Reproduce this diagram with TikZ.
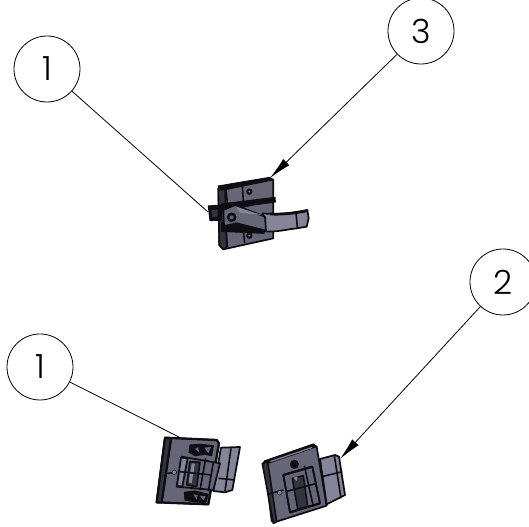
\documentclass[tikz,border=0pt]{standalone}
\usepackage{fontspec}
\setmainfont{Poppins Light}
\usetikzlibrary{arrows.meta}
\definecolor{pg}{HTML}{666678}
\definecolor{pl}{HTML}{85859A}
\definecolor{pd}{HTML}{34343F}
\definecolor{ink}{HTML}{0E0E12}
\tikzset{
  balloon/.style={circle,draw=black,line width=0.6pt,minimum size=49.5pt,inner sep=0pt,fill=white,font=\fontsize{25}{25}\selectfont},
  leader/.style={draw=black,line width=0.6pt},
  arrowed/.style={leader,-{Latex[length=17pt,width=6.5pt]}},
  zoomed/.style={x=0.25pt,y=-0.25pt},
  light/.style={fill=pl,draw=ink,line width=1.3pt,line join=round},
  mid/.style={fill=pg,draw=ink,line width=1.3pt,line join=round},
  dark/.style={fill=pd,draw=ink,line width=1.2pt,line join=round},
  edge/.style={draw=ink,line width=1.2pt},
  heavy/.style={fill=ink,draw=ink,line width=0.8pt,line join=round}
}
\begin{document}
\begin{tikzpicture}[x=0.75pt,y=-0.75pt]
\useasboundingbox (0,0) rectangle (529,527);

% --- upper part
\begin{scope}[shift={(190,160)},zoomed]
  \path[mid] (85,85) -- (240,55) -- (250,60) -- (250,235) -- (100,268) -- (88,255) -- cycle;
  \path[dark] (85,85) -- (105,82) -- (110,262) -- (100,268) -- (88,255) -- cycle;
  \path[heavy] (85,78) -- (240,52) -- (248,60) -- (110,88) -- (92,90) -- cycle;
  \draw[edge] (157,75) -- (160,125) (160,210) -- (164,250);
  \draw[edge] (108,88) -- (112,130) (108,205) -- (112,262);
  \path[heavy] (178,95) circle (8);
  \path[fill=pl] (178,95) circle (3);
  \path[heavy] (178,227) circle (8);
  \path[fill=pl] (178,227) circle (3);
  \path[heavy] (55,138) -- (95,135) -- (95,180) -- (60,182) -- cycle;
  \path[dark] (62,148) -- (85,146) -- (85,172) -- (64,174) -- cycle;
  \path[heavy] (95,132) -- (255,112) -- (256,126) -- (190,135) -- (95,155) -- cycle;
  \path[heavy] (95,188) -- (222,205) -- (222,220) -- (95,214) -- cycle;
  \path[light] (218,160) .. controls (270,165) and (310,158) .. (352,150) -- (356,175) -- (350,200) -- (320,205) .. controls (290,208) and (260,217) .. (225,214) -- cycle;
  \draw[edge] (318,158) -- (322,203);
  \path[fill=ink] (240,158) .. controls (280,160) and (320,155) .. (352,148) -- (353,156) .. controls (310,165) and (270,168) .. (240,166) -- cycle;
  \path[mid] (100,150) -- (135,135) -- (225,170) -- (228,212) -- (140,190) -- (102,198) -- cycle;
  \path[fill=pl] (138,140) -- (215,165) -- (150,158) -- cycle;
  \path[heavy] (125,172) circle (13);
  \path[fill=pg] (125,172) circle (6);
\end{scope}

% --- lower left part
\begin{scope}[shift={(145,425)},zoomed]
  \path[mid] (60,38) -- (215,45) -- (222,55) -- (190,238) -- (35,232) -- cycle;
  \path[dark] (60,38) -- (78,42) -- (50,232) -- (35,232) -- cycle;
  \draw[edge,line width=1.7pt,line join=round] (78,42) -- (50,232) (60,38) -- (215,45) -- (222,55) -- (190,238) -- (35,232) -- cycle;
  \draw[edge] (62,145) -- (95,143);
  \path[fill=pl,draw=ink] (88,142) circle (7);
  \path[light] (228,68) -- (285,66) -- (262,195) -- (240,202) -- (205,198) -- cycle;
  \draw[edge] (258,70) -- (240,198) (220,160) -- (270,165);
  \path[mid] (110,95) -- (225,115) -- (205,195) -- (95,185) -- cycle;
  \path[dark] (135,110) -- (165,112) -- (155,185) -- (125,180) -- cycle;
  \path[fill=pl] (140,115) -- (150,116) -- (140,175) -- (131,172) -- cycle;
  \path[light] (108,98) -- (128,100) -- (112,185) -- (96,182) -- cycle;
  \draw[edge] (182,100) -- (165,195) (205,112) -- (190,198) (105,140) -- (200,150);
  \path[heavy] (135,60) -- (165,58) -- (205,62) -- (200,92) -- (180,88) -- (150,92) -- (132,82) -- cycle;
  \path[fill=pg] (150,72) -- (160,66) -- (162,82) -- cycle;
  \path[fill=pg] (178,68) -- (198,66) -- (190,84) -- cycle;
  \path[heavy] (118,202) -- (150,198) -- (190,208) -- (182,233) -- (145,230) -- (120,225) -- cycle;
  \path[fill=pg] (145,208) -- (158,210) -- (155,224) -- cycle;
  \path[fill=pg] (165,212) -- (182,214) -- (175,226) -- cycle;
\end{scope}

% --- lower right part
\begin{scope}[shift={(255,435)},zoomed]
  \path[mid] (28,80) -- (175,30) -- (185,35) -- (215,212) -- (58,262) -- (50,258) -- cycle;
  \path[dark] (22,85) -- (38,80) -- (65,260) -- (55,265) -- cycle;
  \path[heavy] (28,78) -- (175,27) -- (185,35) -- (38,85) -- cycle;
  \path[fill=pl] (45,78) -- (170,36) -- (172,39) -- (48,81) -- cycle;
  \draw[edge] (38,178) -- (85,165);
  \path[fill=pl,draw=ink] (74,173) circle (7);
  \path[light] (195,72) -- (240,60) -- (252,65) -- (270,180) -- (215,208) -- cycle;
  \draw[edge] (238,62) -- (258,190) (200,125) -- (262,110);
  \path[heavy] (118,88) circle (12);
  \path[mid] (85,120) -- (172,95) -- (195,205) -- (105,232) -- cycle;
  \path[dark] (112,130) -- (145,122) -- (158,215) -- (128,222) -- cycle;
  \path[fill=pl] (115,128) -- (128,125) -- (125,138) -- cycle;
  \draw[edge] (148,92) -- (175,215) (172,95) -- (195,205) (85,120) -- (105,232);
  \draw[edge,line width=1.7pt] (85,120) -- (172,95) (105,232) -- (195,205);
  \draw[edge] (92,170) -- (185,145);
\end{scope}

% --- balloons
\node[balloon] (a) at (47,69) {1};
\node[balloon] (b) at (421,31) {3};
\node[balloon] (c) at (503,282) {2};
\node[balloon] (d) at (40,367) {1};

\coordinate (ae) at (208,212);
\coordinate (be) at (270,178);
\coordinate (ce) at (340,459);
\coordinate (de) at (179,437);
\draw[leader] (a) -- (ae);
\draw[arrowed] (b) -- (be);
\draw[arrowed] (c) -- (ce);
\draw[leader] (d) -- (de);
\end{tikzpicture}
\end{document}
